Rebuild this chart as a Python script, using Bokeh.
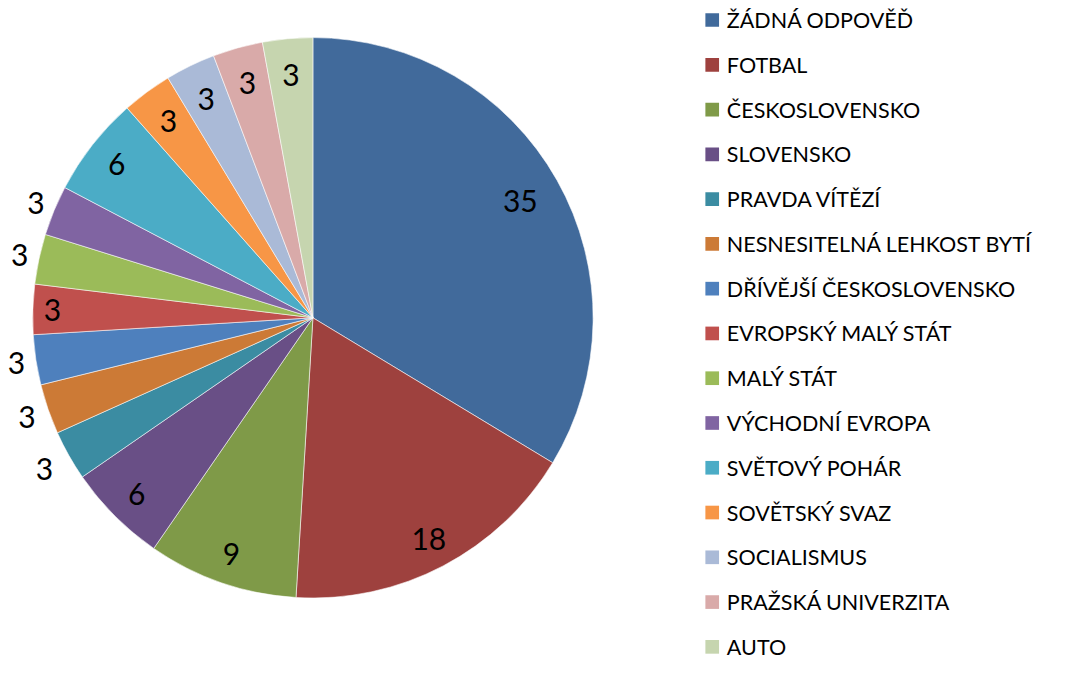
import math
from bokeh.plotting import figure
from bokeh.models import ColumnDataSource, Range1d
from bokeh.core.properties import value
from bokeh.embed import file_html
from bokeh.resources import INLINE

categories = ["ŽÁDNÁ ODPOVĚĎ", "FOTBAL", "ČESKOSLOVENSKO", "SLOVENSKO", "PRAVDA VÍTĚZÍ",
              "NESNESITELNÁ LEHKOST BYTÍ", "DŘÍVĚJŠÍ ČESKOSLOVENSKO", "EVROPSKÝ MALÝ STÁT",
              "MALÝ STÁT", "VÝCHODNÍ EVROPA", "SVĚTOVÝ POHÁR", "SOVĚTSKÝ SVAZ",
              "SOCIALISMUS", "PRAŽSKÁ UNIVERZITA", "AUTO"]
values = [35, 18, 9, 6, 3, 3, 3, 3, 3, 3, 6, 3, 3, 3, 3]
colors = ["#416A9B", "#9E413E", "#7F9A48", "#694F86", "#3B8CA2", "#CC7A36", "#4E80BD",
          "#C0504D", "#9BBB59", "#8064A2", "#4BACC6", "#F79646", "#AABAD7", "#D9AAA9", "#C6D5AF"]
# label distance from centre, as fraction of radius (layout)
label_r = [0.85, 0.89, 0.89, 0.89, 1.10, 1.08, 1.07, 0.93, 1.07, 1.07, 0.89, 0.87, 0.87, 0.87, 0.87]

W, H = 1055, 659
s = H / 675.0                      # uniform scale: data units are reference pixels
XW, YH = W / s, 675.0
cx, cy, R = 320, YH - 325, 287

total = sum(values)
starts, ends, lx, ly = [], [], [], []
cum = 0.0
for v, fr in zip(values, label_r):
    a0 = math.pi / 2 - 2 * math.pi * cum / total
    a1 = math.pi / 2 - 2 * math.pi * (cum + v) / total
    starts.append(a1)
    ends.append(a0)
    mid = (a0 + a1) / 2
    lx.append(cx + fr * R * math.cos(mid))
    ly.append(cy + fr * R * math.sin(mid))
    cum += v

p = figure(width=W, height=H, output_backend="svg", toolbar_location=None,
           x_range=Range1d(0, XW), y_range=Range1d(0, YH), min_border=0)
p.axis.visible = False
p.grid.visible = False
p.outline_line_color = None
p.background_fill_color = "white"
p.border_fill_color = "white"

src = ColumnDataSource(dict(start=starts, end=ends, color=colors,
                            lx=lx, ly=ly, lab=[str(v) for v in values]))
p.wedge(x=cx, y=cy, radius=R, start_angle="start", end_angle="end", direction="anticlock",
        fill_color="color", line_color="white", line_width=0.8, line_alpha=0.7, source=src)
p.text(x="lx", y="ly", text="lab", source=src, text_align="center", text_baseline="middle",
       text_font=value("Lato"), text_font_size="30px", text_color="black")

# legend
n = len(categories)
step = 45.86
leg_y = [YH - 20 - i * step for i in range(n)]
lsrc = ColumnDataSource(dict(y=leg_y, color=colors, name=categories))
p.rect(x=729, y="y", width=14, height=14, fill_color="color", line_color=None, source=lsrc)
p.text(x=744, y="y", text="name", source=lsrc, text_align="left", text_baseline="middle",
       text_font=value("Lato"), text_font_size="21.5px", text_color="black")

open("out.html", "w").write(file_html(p, INLINE))
